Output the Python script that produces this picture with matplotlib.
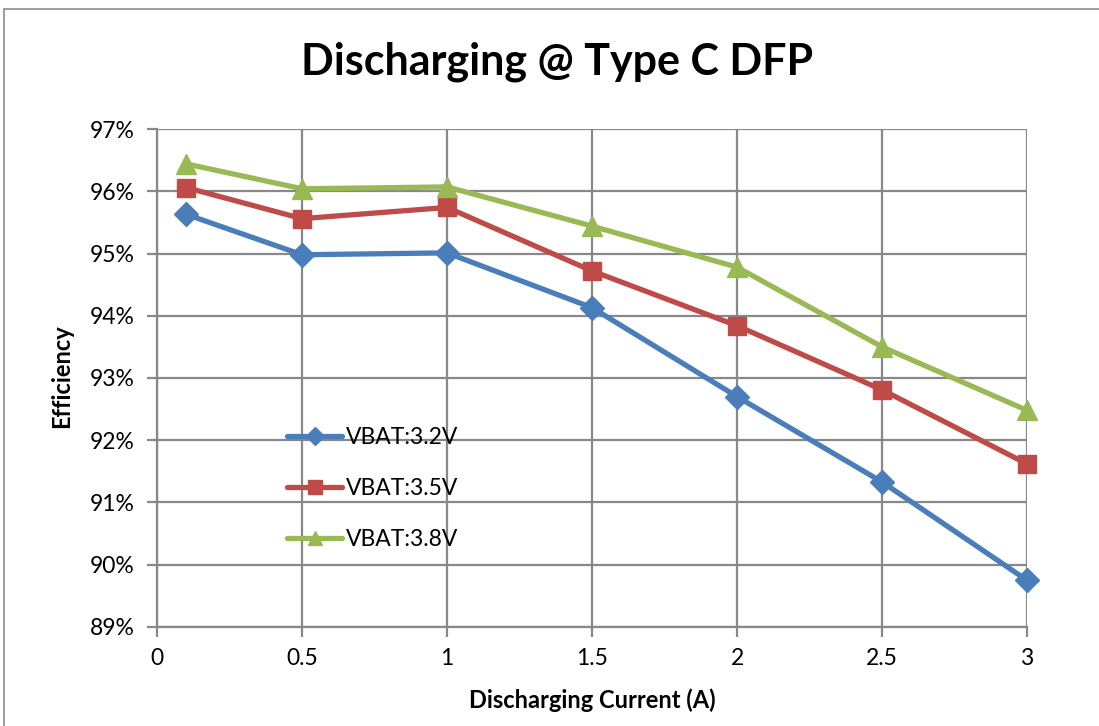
import matplotlib
matplotlib.use("Agg")
import matplotlib.pyplot as plt
from matplotlib.patches import Rectangle
from matplotlib.ticker import FuncFormatter

# discharging current (A)
current = [0.1, 0.5, 1, 1.5, 2, 2.5, 3]

# efficiency (%) per battery voltage
eff_32 = [95.63, 94.98, 95.01, 94.13, 92.70, 91.33, 89.75]
eff_35 = [96.06, 95.56, 95.74, 94.72, 93.84, 92.81, 91.62]
eff_38 = [96.44, 96.04, 96.07, 95.44, 94.78, 93.50, 92.48]

labels = ["VBAT:3.2V", "VBAT:3.5V", "VBAT:3.8V"]
colors = ["#4A7EBB", "#BE4B48", "#98B954"]
markers = ["D", "s", "^"]
msizes = [12, 13, 14]

x_ticks = [0, 0.5, 1, 1.5, 2, 2.5, 3]
y_ticks = [89, 90, 91, 92, 93, 94, 95, 96, 97]

plt.rcParams['font.family'] = ['Lato', 'DejaVu Sans']

fig = plt.figure(figsize=(10.99, 7.26), dpi=100)
ax = fig.add_axes([0.1429, 0.1364, 0.7916, 0.6859])

# outer chart border
fig.patches.append(Rectangle((4 / 1099, -0.1), 1.2, 1 - 9 / 726 + 0.1,
                             transform=fig.transFigure, fill=False,
                             edgecolor="#8c8c8c", linewidth=1.2))

for ys, lab, c, m, ms in zip([eff_32, eff_35, eff_38], labels, colors, markers, msizes):
    ax.plot(current, ys, color=c, linewidth=3.8, marker=m, markersize=ms,
            label=lab, zorder=3, solid_capstyle="round", clip_on=False)

ax.set_xlim(0, 3)
ax.set_ylim(89, 97)
ax.set_xticks(x_ticks)
ax.set_yticks(y_ticks)
ax.xaxis.set_major_formatter(FuncFormatter(lambda v, p: "%g" % v))
ax.yaxis.set_major_formatter(FuncFormatter(lambda v, p: "%d%%" % v))
ax.grid(True, color="#888888", linewidth=1.6)
ax.set_axisbelow(True)
for s in ax.spines.values():
    s.set_visible(False)
for side in ['left', 'bottom']:
    ax.spines[side].set_visible(True)
    ax.spines[side].set_color("#888888")
    ax.spines[side].set_linewidth(1.6)
ax.tick_params(axis="both", direction="out", length=7, width=1.6,
               color="#888888", labelsize=16.5, labelcolor="black")
ax.tick_params(axis="x", pad=8)
ax.tick_params(axis="y", pad=9)

fig.text(557 / 1099, 1 - 62 / 726, "Discharging @ Type C DFP",
         ha="center", va="center", fontsize=31, fontweight="bold")
fig.text(592 / 1099, 1 - 700 / 726, "Discharging Current (A)",
         ha="center", va="center", fontsize=17, fontweight="bold")
fig.text(62 / 1099, 1 - 376 / 726, "Efficiency", rotation=90,
         ha="center", va="center", fontsize=17, fontweight="bold")

ax.legend(loc="upper left", bbox_to_anchor=(287 / 1099, 1 - 427 / 726),
          bbox_transform=fig.transFigure, frameon=False, fontsize=16.5,
          handlelength=2.4, handletextpad=0.15, labelspacing=1.3,
          markerscale=0.75, borderpad=0, borderaxespad=0)

fig.savefig("out.png", dpi=100)
